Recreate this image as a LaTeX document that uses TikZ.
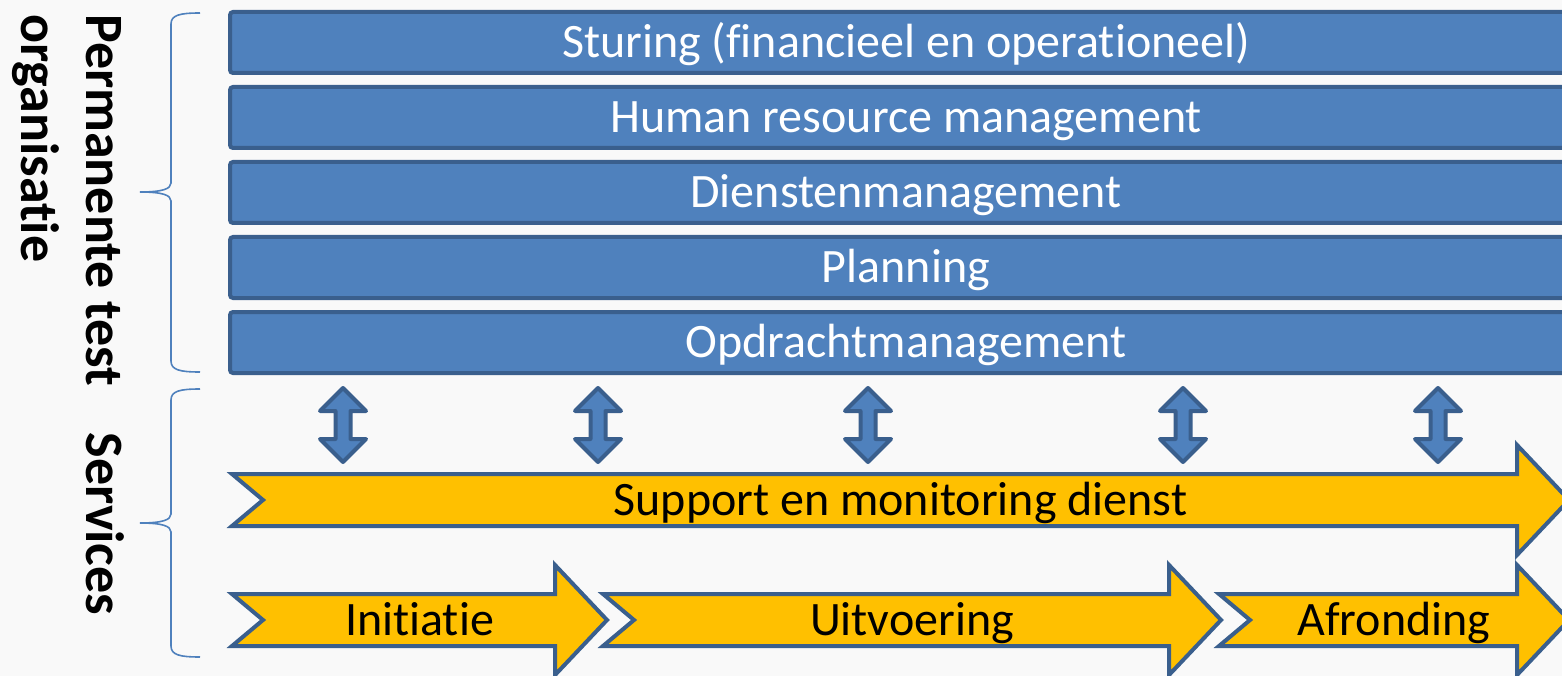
\documentclass[tikz,border=0pt]{standalone}
\usepackage{fontspec}
\setmainfont{Carlito}[Ligatures=NoCommon]
\definecolor{barblue}{HTML}{4F81BD}
\definecolor{lineblue}{HTML}{3A5F8D}
\definecolor{phaseyellow}{HTML}{FFC000}
\definecolor{bggray}{HTML}{F9F9F9}
\newcommand{\PhaseArrow}[5]{%
  \draw[phase] (#2,#4-26) -- (#3,#4-26) -- (#3,#4-55) -- (#3+52,#4) -- (#3,#4+55)
    -- (#3,#4+26) -- (#2,#4+26) -- (#2+31,#4) -- cycle;
  \node[phasetext] (#1) at ({(#2+#3+52)/2},#4+15) {#5};}
\newcommand{\SideBrace}[3]{%
  \draw[curly] (200,#1) .. controls (180,#1) and (171,#1+2) .. (171,#1+11) -- (171,#2-9)
    .. controls (171,#2-3) and (162,#2) .. (140,#2) .. controls (162,#2) and (171,#2+3) .. (171,#2+9)
    -- (171,#3-11) .. controls (171,#3-2) and (180,#3) .. (200,#3);}

\begin{document}
\begin{tikzpicture}[x=1pt, y=-1pt,
    bar/.style={draw=lineblue, line width=4pt, fill=barblue, rounded corners=3pt,
      minimum width=1352pt, minimum height=61pt, inner sep=0pt},
    bartext/.style={inner sep=0pt, anchor=base, text=white, font=\fontsize{48}{58}\selectfont},
    phase/.style={draw=lineblue, line width=4pt, fill=phaseyellow},
    phasetext/.style={inner sep=0pt, anchor=base, font=\fontsize{48}{58}\selectfont},
    updown/.style={draw=lineblue, line width=4pt, fill=barblue, line join=round},
    curly/.style={draw=barblue, line width=1.6pt},
    sidelabel/.style={inner sep=0pt, rotate=-90, font=\fontsize{54}{65}\bfseries\selectfont}]
                            \path[use as bounding box, fill=bggray] (0,0) rectangle (1562,676);
                            \clip (0,0) rectangle (1562,676);

                            \node[bar] (sturing)   at (906,42.5)  {};
                            \node[bar] (hrm)       at (906,117.5) {};
                            \node[bar] (diensten)  at (906,192.5) {};
                            \node[bar] (planning)  at (906,267.5) {};
                            \node[bar] (opdracht)  at (906,342.5) {};
                            \node[bartext] at ([yshift=-15pt]sturing.center)  {Sturing (financieel en operationeel)};
                            \node[bartext] at ([yshift=-15pt]hrm.center)      {Human resource management};
                            \node[bartext] at ([yshift=-15pt]diensten.center) {Dienstenmanagement};
                            \node[bartext] at ([yshift=-15pt]planning.center) {Planning};
                            \node[bartext] at ([yshift=-15pt]opdracht.center) {Opdrachtmanagement};

                            \foreach \x in {343,598,868,1183,1438}
                              \draw[updown] (\x,388) -- (\x+23,411) -- (\x+7.5,411) -- (\x+7.5,439)
                                -- (\x+23,439) -- (\x,462) -- (\x-23,439) -- (\x-7.5,439)
                                -- (\x-7.5,411) -- (\x-23,411) -- cycle;

                            \PhaseArrow{support}{232}{1517}{500}{Support en monitoring dienst}
                            \PhaseArrow{initiatie}{232}{555}{620}{Initiatie}
                            \PhaseArrow{uitvoering}{603}{1169}{620}{Uitvoering}
                            \PhaseArrow{afronding}{1219}{1517}{620}{Afronding}

                            \SideBrace{13}{192}{372}
                            \SideBrace{389}{523}{657}

                            \node[sidelabel, align=left, anchor=north west] (permanent) at (122,14)
                              {Permanente test\\organisatie};
                            \node[sidelabel] (services) at (105,524) {Services};
                        \end{tikzpicture}
\end{document}
